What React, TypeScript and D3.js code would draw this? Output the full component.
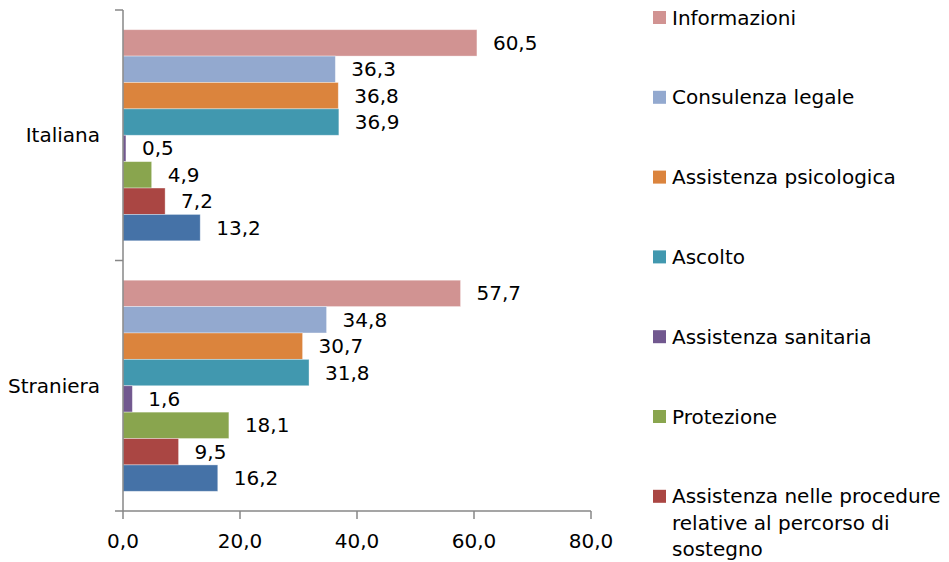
import React from "react";
import * as d3 from "d3";

const categories = ["Italiana", "Straniera"];
// series listed top to bottom within each group
const seriesNames = [
  "Informazioni",
  "Consulenza legale",
  "Assistenza psicologica",
  "Ascolto",
  "Assistenza sanitaria",
  "Protezione",
  "Assistenza nelle procedure relative al percorso di sostegno",
  "Altro",
];
const seriesColors = ["#D19392", "#93A9CF", "#DB843D", "#4198AF", "#71588F", "#89A54E", "#AA4643", "#4572A7"];
const italianaValues = [60.5, 36.3, 36.8, 36.9, 0.5, 4.9, 7.2, 13.2];
const stranieraValues = [57.7, 34.8, 30.7, 31.8, 1.6, 18.1, 9.5, 16.2];
const xTicks = [0, 20, 40, 60, 80];

const legendLines: string[][] = [
  ["Informazioni"],
  ["Consulenza legale"],
  ["Assistenza psicologica"],
  ["Ascolto"],
  ["Assistenza sanitaria"],
  ["Protezione"],
  ["Assistenza nelle procedure", "relative al percorso di", "sostegno"],
  ["Altro"],
];

const W = 949;
const H = 562;
const FONT = "'DejaVu Sans', sans-serif";
const loc = d3.formatLocale({ decimal: ",", thousands: ".", grouping: [3], currency: ["", "€"] });
const fmt = loc.format(".1f");

export default function App() {
  const x = d3.scaleLinear().domain([0, 80]).range([123, 591]);
  const y = d3.scaleBand<string>().domain(categories).range([10, 511]);
  const valuesByCat: Record<string, number[]> = { Italiana: italianaValues, Straniera: stranieraValues };
  const pad = 19.7;
  const axisColor = "#878787";
  const yTickPositions = [10, ...categories.map((c) => (y(c) as number) + y.bandwidth())];

  const legendX = 653;
  const legendY0 = 17.5;
  const legendStep = 79.8;
  const lineH = 26.5;

  return (
    <div style={{ position: "fixed", left: 0, top: 0 }}>
      <svg width={W} height={H} style={{ display: "block", background: "#fff" }} fontFamily={FONT}>
        {categories.map((c) => {
          const top = (y(c) as number) + pad;
          const bottom = (y(c) as number) + y.bandwidth() - pad;
          const inner = d3.scaleBand<string>().domain(seriesNames).range([top, bottom]).padding(0);
          const vals = valuesByCat[c];
          return (
            <g key={c}>
              {seriesNames.map((s, i) => {
                const by = inner(s) as number;
                const bh = inner.bandwidth();
                return (
                  <g key={s}>
                    <rect
                      x={x(0)}
                      y={by}
                      width={x(vals[i]) - x(0)}
                      height={bh}
                      fill={seriesColors[i]}
                      stroke="rgba(255,255,255,0.45)"
                      strokeWidth={0.8}
                    />
                    <text x={x(vals[i]) + 16} y={by + bh / 2} dominantBaseline="central" fontSize={20} fill="#000">
                      {fmt(vals[i])}
                    </text>
                  </g>
                );
              })}
              <text
                x={100}
                y={(y(c) as number) + y.bandwidth() / 2}
                textAnchor="end"
                dominantBaseline="central"
                fontSize={20}
                fill="#000"
              >
                {c}
              </text>
            </g>
          );
        })}
        {/* y axis */}
        <line x1={x(0)} x2={x(0)} y1={10} y2={511} stroke={axisColor} strokeWidth={1.5} />
        {yTickPositions.map((t, i) => (
          <line key={i} x1={x(0) - 8} x2={x(0)} y1={t} y2={t} stroke={axisColor} strokeWidth={1.5} />
        ))}
        {/* x axis */}
        <line x1={x(0)} x2={x(80)} y1={511} y2={511} stroke={axisColor} strokeWidth={1.5} />
        {xTicks.map((t) => (
          <g key={t}>
            <line x1={x(t)} x2={x(t)} y1={511} y2={519} stroke={axisColor} strokeWidth={1.5} />
            <text x={x(t)} y={541} textAnchor="middle" dominantBaseline="central" fontSize={20} fill="#000">
              {fmt(t)}
            </text>
          </g>
        ))}
        {/* legend */}
        {seriesNames.map((s, i) => {
          const cy = legendY0 + i * legendStep;
          const lines = legendLines[i];
          if (cy + (lines.length - 1) * lineH + 12 > H) return null;
          return (
            <g key={s}>
              <rect x={legendX} y={cy - 6.5} width={13} height={13} fill={seriesColors[i]} />
              <text x={legendX + 19} y={cy} fontSize={20} fill="#000" dominantBaseline="central">
                {lines.map((l, j) => (
                  <tspan key={j} x={legendX + 19} dy={j === 0 ? 0 : lineH}>
                    {l}
                  </tspan>
                ))}
              </text>
            </g>
          );
        })}
      </svg>
    </div>
  );
}
